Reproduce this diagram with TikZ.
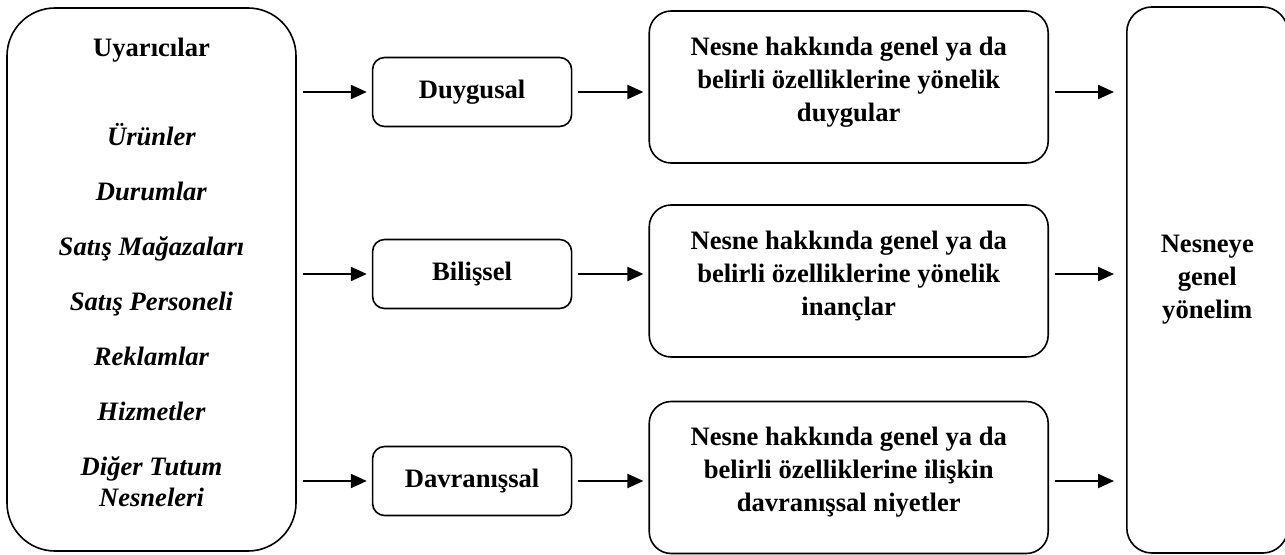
\documentclass[tikz,border=0pt]{standalone}
\usepackage{fontspec}
\setmainfont{Liberation Serif}
\usetikzlibrary{arrows.meta, positioning}

\begin{document}
\begin{tikzpicture}[
    node distance=38pt,
    box/.style={draw, line width=0.8pt, fill=white, align=center,
        font=\fontsize{13.3}{16.5}\selectfont\bfseries},
    input/.style={box, rounded corners=24pt, minimum width=144.5pt, minimum height=271.5pt, text depth=7pt},
    kind/.style={box, rounded corners=6pt, minimum width=99.5pt, minimum height=34.5pt},
    result/.style={box, rounded corners=11pt, minimum width=199.5pt, minimum height=76pt, text depth=8pt},
    outcome/.style={box, rounded corners=12.5pt, minimum width=80.5pt, minimum height=273pt},
    arrow/.style={-{Triangle[length=8pt, width=7pt]}, line width=1.1pt,
        shorten <=3pt, shorten >=2.5pt}
]
\useasboundingbox (0,0) rectangle (642.5pt,-277.5pt);
\node[input] (stimuli) at (75.75pt,-139.75pt) {Uyarıcılar\\[28pt]
    \textit{Ürünler}\\[11pt]
    \textit{Durumlar}\\[11pt]
    \textit{Satış Mağazaları}\\[11pt]
    \textit{Satış Personeli}\\[11pt]
    \textit{Reklamlar}\\[11pt]
    \textit{Hizmetler}\\[11pt]
    \textit{Diğer Tutum}\\[-1pt]
    \textit{Nesneleri}};
\node[kind, below right=24.75pt and 37.5pt of stimuli.north east] (affect) {Duygusal};
\node[kind, right=37.5pt of stimuli, yshift=2.75pt] (cognition) {Bilişsel};
\node[kind, above right=17.75pt and 37.5pt of stimuli.south east] (behaviour) {Davranışsal};
\node[result, right=of affect, yshift=2.5pt] (feelings) {Nesne hakkında genel ya da\\belirli özelliklerine yönelik\\duygular};
\node[result, right=of cognition, yshift=-3.5pt] (beliefs) {Nesne hakkında genel ya da\\belirli özelliklerine yönelik\\inançlar};
\node[result, right=of behaviour, yshift=1.75pt] (intentions) {Nesne hakkında genel ya da\\belirli özelliklerine ilişkin\\davranışsal niyetler};
\node[outcome, right=38.5pt of beliefs, yshift=0.5pt] (orientation) {Nesneye\\genel\\yönelim};
\draw[arrow] (stimuli.east |- affect) -- (affect);
\draw[arrow] (stimuli.east |- cognition) -- (cognition);
\draw[arrow] (stimuli.east |- behaviour) -- (behaviour);
\draw[arrow] (affect) -- (affect -| feelings.west);
\draw[arrow] (cognition) -- (cognition -| beliefs.west);
\draw[arrow] (behaviour) -- (behaviour -| intentions.west);
\draw[arrow, shorten >=6pt] (affect -| feelings.east) -- (affect -| orientation.west);
\draw[arrow, shorten >=6pt] (cognition -| beliefs.east) -- (cognition -| orientation.west);
\draw[arrow, shorten >=6pt] (behaviour -| intentions.east) -- (behaviour -| orientation.west);
\end{tikzpicture}
\end{document}
